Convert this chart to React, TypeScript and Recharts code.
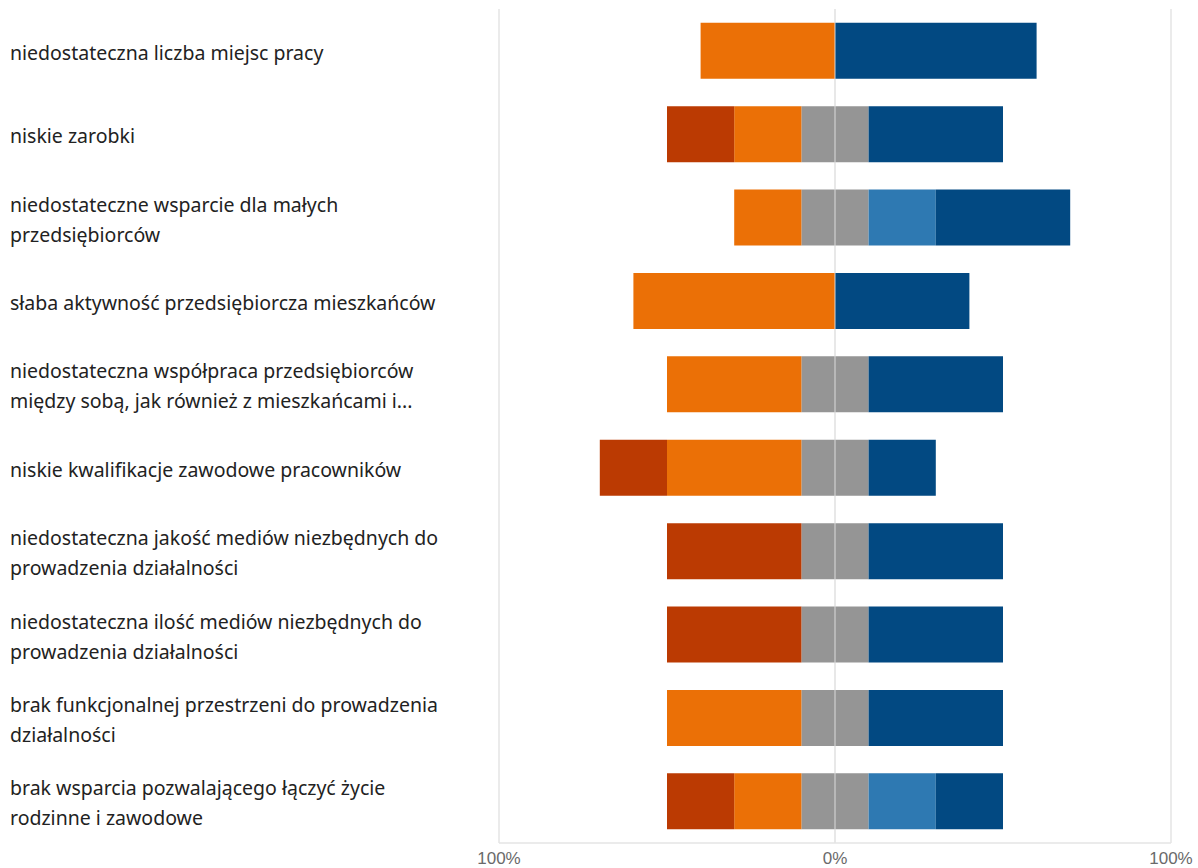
import { BarChart, Bar, XAxis, YAxis, CartesianGrid, ReferenceLine } from 'recharts';

// kategorie (etykiety osi Y, \n = podział wiersza jak na obrazku)
const categories = [
    'niedostateczna liczba miejsc pracy',
    'niskie zarobki',
    'niedostateczne wsparcie dla małych\nprzedsiębiorców',
    'słaba aktywność przedsiębiorcza mieszkańców',
    'niedostateczna współpraca przedsiębiorców\nmiędzy sobą, jak również z mieszkańcami i...',
    'niskie kwalifikacje zawodowe pracowników',
    'niedostateczna jakość mediów niezbędnych do\nprowadzenia działalności',
    'niedostateczna ilość mediów niezbędnych do\nprowadzenia działalności',
    'brak funkcjonalnej przestrzeni do prowadzenia\ndziałalności',
    'brak wsparcia pozwalającego łączyć życie\nrodzinne i zawodowe',
];

// udziały odpowiedzi w %
const stronglyNegative = [0, 20, 0, 0, 0, 20, 40, 40, 0, 20];
const negative = [40, 20, 20, 60, 40, 40, 0, 0, 40, 20];
const neutral = [0, 20, 20, 0, 20, 20, 20, 20, 20, 20];
const positive = [0, 0, 20, 0, 0, 0, 0, 0, 0, 20];
const stronglyPositive = [60, 40, 40, 40, 40, 20, 40, 40, 40, 20];

const xTicks = [-100, 0, 100];

const data = categories.map((name, i) => ({
    name,
    neutralNeg: -neutral[i] / 2,
    negative: -negative[i],
    stronglyNegative: -stronglyNegative[i],
    neutralPos: neutral[i] / 2,
    positive: positive[i],
    stronglyPositive: stronglyPositive[i],
}));

const CategoryTick = (props: any) => {
    const { y, payload } = props;
    const lines = String(payload.value).split('\n');
    return (
        <g>
            {lines.map((line: string, i: number) => (
                <text
                    key={i}
                    x={10}
                    y={y + 1.5 + (i - (lines.length - 1) / 2) * 30}
                    textAnchor="start"
                    dominantBaseline="central"
                    fill="#222"
                    fontSize={19.5}
                    fontFamily="'Noto Sans', sans-serif"
                >
                    {line}
                </text>
            ))}
        </g>
    );
};

export default function App() {
    return (
        <div style={{ position: 'absolute', left: 0, top: 0, width: 1198, height: 868, background: '#fff' }}>
            <BarChart
                width={1198}
                height={868}
                data={data}
                layout="vertical"
                stackOffset="sign"
                barCategoryGap="16.5%"
                margin={{ top: 9, right: 27, bottom: 0, left: 0 }}
            >
                <CartesianGrid horizontal={false} stroke="#e4e4e4" strokeWidth={1.5} />
                <XAxis
                    type="number"
                    domain={[-100, 100]}
                    ticks={xTicks}
                    tickFormatter={(v: number) => `${Math.abs(v)}%`}
                    axisLine={{ stroke: '#e4e4e4', strokeWidth: 1.5 }}
                    tickLine={false}
                    height={25}
                    tick={{ fill: '#6a6a6a', fontSize: 17, fontFamily: "'Liberation Sans Narrow', 'Liberation Sans', sans-serif" }}
                    tickMargin={3}
                />
                <YAxis
                    type="category"
                    dataKey="name"
                    width={499}
                    axisLine={false}
                    tickLine={false}
                    tick={<CategoryTick />}
                    interval={0}
                />
                <Bar dataKey="neutralNeg" stackId="a" fill="#959595" isAnimationActive={false} />
                <Bar dataKey="negative" stackId="a" fill="#EB7006" isAnimationActive={false} />
                <Bar dataKey="stronglyNegative" stackId="a" fill="#BB3A02" isAnimationActive={false} />
                <Bar dataKey="neutralPos" stackId="a" fill="#959595" isAnimationActive={false} />
                <Bar dataKey="positive" stackId="a" fill="#2E79B2" isAnimationActive={false} />
                <Bar dataKey="stronglyPositive" stackId="a" fill="#024982" isAnimationActive={false} />
                <ReferenceLine x={0} stroke="#e4e4e4" strokeWidth={1.5} strokeOpacity={0.6} zIndex={1000} />
            </BarChart>
        </div>
    );
}
